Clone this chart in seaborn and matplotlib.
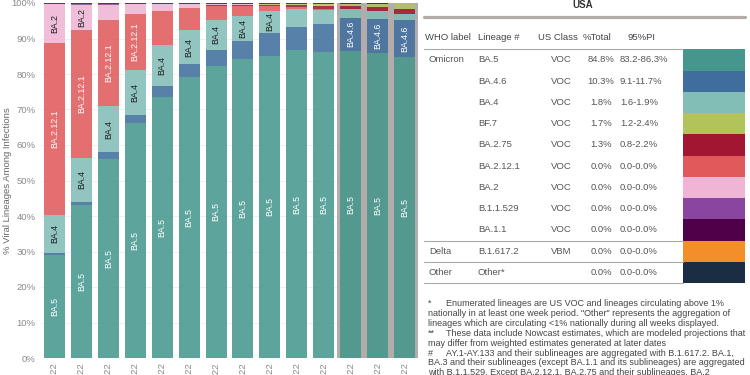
import numpy as np
import pandas as pd
import seaborn as sns
import matplotlib.pyplot as plt
from matplotlib.lines import Line2D
from matplotlib.patches import Rectangle

# ===== data =====
weeks = ["6/25/22", "7/2/22", "7/9/22", "7/16/22", "7/23/22", "7/30/22", "8/6/22",
         "8/13/22", "8/20/22", "8/27/22", "9/3/22", "9/10/22", "9/17/22", "9/24/22"]
nowcast_weeks = 3

ba5 =      [29.0, 43.0, 56.1, 66.2, 73.5, 79.2, 82.3, 84.2, 85.1, 86.7, 86.2, 86.5, 85.9, 84.8]
ba46 =     [0.7, 1.0, 1.9, 2.3, 3.1, 3.6, 4.5, 5.1, 6.5, 6.6, 8.0, 9.4, 9.6, 10.3]
ba4 =      [10.6, 12.3, 13.0, 12.6, 11.6, 9.6, 8.4, 7.1, 6.1, 4.9, 3.8, 2.3, 2.2, 1.8]
bf7 =      [0.0, 0.0, 0.0, 0.0, 0.0, 0.0, 0.0, 0.0, 0.1, 0.2, 0.6, 0.6, 0.9, 1.7]
ba275 =    [0.0, 0.0, 0.0, 0.0, 0.1, 0.1, 0.1, 0.2, 0.3, 0.5, 0.7, 0.8, 1.2, 1.3]
ba2121 =   [48.4, 36.1, 24.2, 15.8, 9.5, 6.2, 4.0, 2.8, 1.5, 0.8, 0.4, 0.2, 0.0, 0.0]
ba2 =      [10.9, 7.1, 4.3, 2.7, 1.8, 1.0, 0.5, 0.4, 0.2, 0.1, 0.1, 0.0, 0.0, 0.0]
b11529 =   [0.1, 0.1, 0.1, 0.1, 0.1, 0.1, 0.0, 0.0, 0.0, 0.0, 0.0, 0.0, 0.0, 0.0]
ba11 =     [0.0, 0.0, 0.0, 0.0, 0.0, 0.0, 0.0, 0.0, 0.0, 0.0, 0.0, 0.0, 0.0, 0.0]
delta =    [0.0, 0.0, 0.0, 0.0, 0.0, 0.0, 0.0, 0.0, 0.0, 0.0, 0.0, 0.0, 0.0, 0.0]
other =    [0.3, 0.4, 0.4, 0.3, 0.3, 0.2, 0.2, 0.2, 0.2, 0.2, 0.2, 0.2, 0.2, 0.1]

lineages = ["BA.5", "BA.4.6", "BA.4", "BF.7", "BA.2.75", "BA.2.12.1", "BA.2",
            "B.1.1.529", "BA.1.1", "B.1.617.2", "Other*"]
who_label = ["Omicron", "", "", "", "", "", "", "", "", "Delta", "Other"]
us_class = ["VOC"] * 9 + ["VBM", ""]
pct_total = ["84.8%", "10.3%", "1.8%", "1.7%", "1.3%", "0.0%", "0.0%", "0.0%", "0.0%", "0.0%", "0.0%"]
pi_95 = ["83.2-86.3%", "9.1-11.7%", "1.6-1.9%", "1.2-2.4%", "0.8-2.2%", "0.0-0.0%",
         "0.0-0.0%", "0.0-0.0%", "0.0-0.0%", "0.0-0.0%", "0.0-0.0%"]
colors = ["#45978d", "#3f6e9e", "#82bdb6", "#b3c35c", "#a21631", "#e05a5c",
          "#f0b5d5", "#8a45a0", "#4f0048", "#f28f2a", "#1b2d42"]

shares = pd.DataFrame({"BA.5": ba5, "BA.4.6": ba46, "BA.4": ba4, "BF.7": bf7,
                       "BA.2.75": ba275, "BA.2.12.1": ba2121, "BA.2": ba2,
                       "B.1.1.529": b11529, "BA.1.1": ba11, "B.1.617.2": delta,
                       "Other*": other}, index=weeks)
# bottom -> top in the bars
stack_order = ["BA.5", "BA.4.6", "BA.4", "BA.2.12.1", "BA.2.75", "BF.7", "BA.2",
               "B.1.1.529", "BA.1.1", "B.1.617.2", "Other*"]
# lineages that get a name inside the bar, and the text colour
bar_labels = {"BA.5": "white", "BA.4.6": "white", "BA.4": "#1e1e1e",
              "BA.2.12.1": "white", "BA.2": "#1e1e1e"}

footnotes = [
    ("*", "Enumerated lineages are US VOC and lineages circulating above 1%"),
    ("", "nationally in at least one week period. \"Other\" represents the aggregation of"),
    ("", "lineages which are circulating <1% nationally during all weeks displayed."),
    ("**", "These data include Nowcast estimates, which are modeled projections that"),
    ("", "may differ from weighted estimates generated at later dates"),
    ("#", "AY.1-AY.133 and their sublineages are aggregated with B.1.617.2. BA.1,"),
    ("", "BA.3 and their sublineages (except BA.1.1 and its sublineages) are aggregated"),
    ("", "with B.1.1.529. Except BA.2.12.1, BA.2.75 and their sublineages, BA.2"),
]

# ===== style =====
sns.set_theme(style="whitegrid")
plt.rcParams['font.family'] = ['Liberation Sans', 'DejaVu Sans']

W, H = 750, 375
fig = plt.figure(figsize=(7.5, 3.75), dpi=100)
ax = fig.add_axes([41 / W, 1 - 358 / H, (418 - 41) / W, (358 - 3) / H])

col = dict(zip(lineages, colors))

# nowcast shading (above the grid, below the bars)
ax.axvspan(len(weeks) - nowcast_weeks - 0.5, len(weeks) - 0.5, color="#b4acaa", lw=0, zorder=0.8)

# ===== stacked bars =====
bottom = np.zeros(len(weeks))
for lin in stack_order:
    vals = shares[lin].to_numpy()
    sns.barplot(x=weeks, y=vals, bottom=bottom.copy(), color=col[lin], alpha=0.87,
                width=0.78, saturation=1, errorbar=None, linewidth=0, ax=ax)
    bottom += vals

ax.set_xlim(-0.5, len(weeks) - 0.5)
ax.set_ylim(0, 100)

# ===== labels inside bars =====
fig.canvas.draw()
renderer = fig.canvas.get_renderer()
px_per_pct = ax.get_window_extent().height / 100
bottom = np.zeros(len(weeks))
for lin in stack_order:
    vals = shares[lin].to_numpy()
    if lin in bar_labels:
        for i, v in enumerate(vals):
            if v <= 0:
                continue
            t = ax.text(i, bottom[i] + v / 2, lin, rotation=90, ha="center", va="center",
                        fontsize=6.3, color=bar_labels[lin])
            h = t.get_window_extent(renderer).height
            if h + 2.5 > v * px_per_pct:
                t.remove()
    bottom += vals

# ===== axes =====
ax.set_yticks(range(0, 101, 10))
ax.set_yticklabels([f"{v}%" for v in range(0, 101, 10)])
ax.set_xticks(range(len(weeks)))
ax.set_xticklabels(weeks, rotation=90)
ax.set_xticks(np.arange(0.5, len(weeks) - 1, 1), minor=True)
ax.tick_params(axis="both", which="major", length=0, labelsize=6.8, labelcolor="#8a8a8a")
ax.tick_params(axis="x", which="major", pad=3)
ax.tick_params(axis="x", which="minor", length=13, width=0.5, color="#e6e6e6")
ax.tick_params(axis="y", pad=4)
ax.yaxis.grid(True, color="#ededed", lw=0.6)
ax.xaxis.grid(False)
ax.set_xlabel("")
ax.set_ylabel("% Viral Lineages Among Infections", fontsize=6.8, color="#666666")
ax.yaxis.set_label_coords(-0.078, 0.5)
for s in ax.spines.values():
    s.set_visible(False)

# ===== table =====
def fx(x):
    return x / W

def fy(y):
    return 1 - y / H

txt = "#555555"
fig.text(fx(583), fy(5), "USA", ha="center", va="center", fontsize=7, weight="bold", color="#333333")
fig.add_artist(Line2D([fx(424), fx(745)], [fy(16.5)] * 2, lw=2.3, color="#b3aca9"))

hy = 37
fig.text(fx(425), fy(hy), "WHO label", ha="left", va="center", fontsize=6.8, color="#444444")
fig.text(fx(478), fy(hy), "Lineage #", ha="left", va="center", fontsize=6.8, color="#444444")
fig.text(fx(558), fy(hy), "US Class", ha="center", va="center", fontsize=6.8, color="#444444")
fig.text(fx(597), fy(hy), "%Total", ha="center", va="center", fontsize=6.8, color="#444444")
fig.text(fx(641), fy(hy), "95%PI", ha="center", va="center", fontsize=6.8, color="#444444")

row_top, row_h = 49.3, 21.25
fig.add_artist(Line2D([fx(424), fx(683)], [fy(row_top)] * 2, lw=0.8, color="#a9a9a9"))
for i in range(len(lineages)):
    yc = row_top + row_h * (i + 0.5)
    fig.text(fx(429), fy(yc), who_label[i], ha="left", va="center", fontsize=6.8, color=txt)
    fig.text(fx(478), fy(yc), lineages[i], ha="left", va="center", fontsize=6.8, color=txt)
    fig.text(fx(561), fy(yc), us_class[i], ha="center", va="center", fontsize=6.8, color=txt)
    fig.text(fx(601), fy(yc), pct_total[i], ha="center", va="center", fontsize=6.8, color=txt)
    fig.text(fx(620), fy(yc), pi_95[i], ha="left", va="center", fontsize=6.8, color=txt)
    fig.add_artist(Rectangle((fx(683), fy(row_top + row_h * (i + 1))), fx(745) - fx(683),
                             row_h / H, facecolor=colors[i], edgecolor="none"))
for k in (9, 10, 11):
    yl = row_top + row_h * k
    fig.add_artist(Line2D([fx(424), fx(683)], [fy(yl)] * 2, lw=0.8, color="#a9a9a9"))

# ===== footnotes =====
for j, (mark, line) in enumerate(footnotes):
    yc = 303.5 + 9.9 * j
    if mark:
        fig.text(fx(428), fy(yc), mark, ha="left", va="center", fontsize=6.45, color="#444444")
        fig.text(fx(446), fy(yc), line, ha="left", va="center", fontsize=6.45, color="#444444")
    else:
        fig.text(fx(428), fy(yc), line, ha="left", va="center", fontsize=6.45, color="#444444")

fig.savefig("out.png", dpi=100)
